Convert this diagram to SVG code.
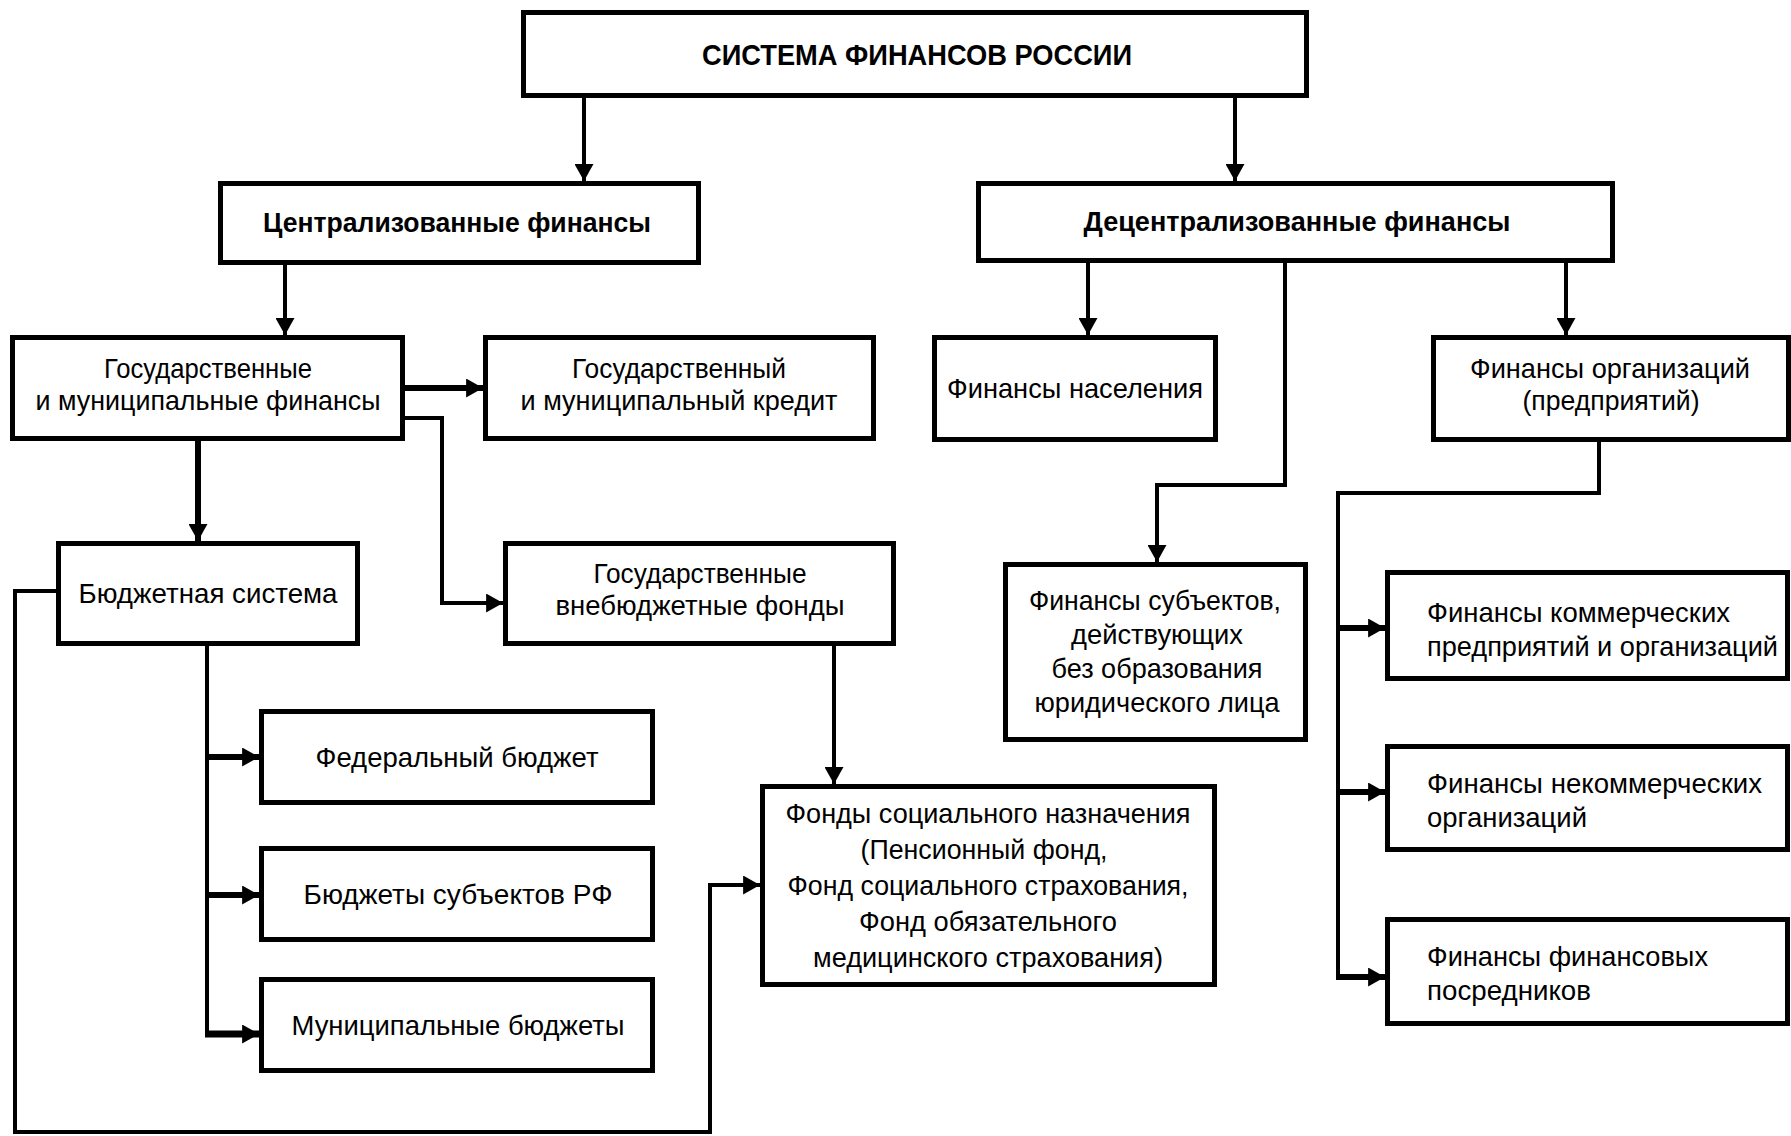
<svg xmlns="http://www.w3.org/2000/svg" width="1791" height="1136" viewBox="0 0 1791 1136">
<style>
.box{fill:#fff;stroke:#000;stroke-width:5}
.t{font-family:"Liberation Sans",Arial,sans-serif;font-size:28px;fill:#000;text-anchor:middle}
.l{text-anchor:start}
.b{font-weight:bold;font-size:27px}
.c{fill:none;stroke:#000;stroke-width:4;stroke-linejoin:miter;stroke-linecap:butt}
.c6{stroke-width:6}
.c7{stroke-width:7}
</style>
<defs>
<marker id="ah" markerUnits="userSpaceOnUse" markerWidth="17" markerHeight="19" refX="16" refY="9" orient="auto" viewBox="0 0 16 18">
<path d="M0,0 L16,9 L0,18 z" fill="#000"/>
</marker>
</defs>
<rect width="1791" height="1136" fill="#fff"/>

<g id="connectors">
<path class="c" d="M584,98 V181" marker-end="url(#ah)"/>
<path class="c" d="M1235,98 V181" marker-end="url(#ah)"/>
<path class="c" d="M285,265 V335" marker-end="url(#ah)"/>
<path class="c c6" d="M405,388 H483" marker-end="url(#ah)"/>
<path class="c" d="M405,418 H442 V603 H503" marker-end="url(#ah)"/>
<path class="c c6" d="M198,441 V541" marker-end="url(#ah)"/>
<path class="c" d="M207,646 V1034"/>
<path class="c c6" d="M205,757 H259" marker-end="url(#ah)"/>
<path class="c c6" d="M205,895 H259" marker-end="url(#ah)"/>
<path class="c c7" d="M205,1034 H259" marker-end="url(#ah)"/>
<path class="c" d="M56,591 H15 V1132 H710 V885 H760" marker-end="url(#ah)"/>
<path class="c" d="M834,646 V784" marker-end="url(#ah)"/>
<path class="c" d="M1088,263 V335" marker-end="url(#ah)"/>
<path class="c" d="M1285,263 V485 H1157 V562" marker-end="url(#ah)"/>
<path class="c" d="M1566,263 V335" marker-end="url(#ah)"/>
<path class="c" d="M1599,442 V493 H1338 V977"/>
<path class="c c6" d="M1336,628 H1385" marker-end="url(#ah)"/>
<path class="c c6" d="M1336,792 H1385" marker-end="url(#ah)"/>
<path class="c c6" d="M1336,977 H1385" marker-end="url(#ah)"/>
</g>

<g id="n_system">
<rect class="box" x="523.5" y="12.5" width="783" height="83"/>
<text class="t b" x="917" y="65" style="font-size:30px" textLength="430" lengthAdjust="spacingAndGlyphs">СИСТЕМА ФИНАНСОВ РОССИИ</text>
</g>

<g id="n_central">
<rect class="box" x="220.5" y="183.5" width="478" height="79"/>
<text class="t b" x="457" y="232" textLength="388" lengthAdjust="spacingAndGlyphs">Централизованные финансы</text>
</g>

<g id="n_decentral">
<rect class="box" x="978.5" y="183.5" width="634" height="77"/>
<text class="t b" x="1297" y="231" textLength="427" lengthAdjust="spacingAndGlyphs">Децентрализованные финансы</text>
</g>

<g id="n_gosmun">
<rect class="box" x="12.5" y="337.5" width="390" height="101"/>
<text class="t" x="208" y="378" textLength="208" lengthAdjust="spacingAndGlyphs">Государственные</text>
<text class="t" x="208" y="410" textLength="345" lengthAdjust="spacingAndGlyphs">и муниципальные финансы</text>
</g>

<g id="n_credit">
<rect class="box" x="485.5" y="337.5" width="388" height="101"/>
<text class="t" x="679" y="378" textLength="214" lengthAdjust="spacingAndGlyphs">Государственный</text>
<text class="t" x="679" y="410" textLength="317" lengthAdjust="spacingAndGlyphs">и муниципальный кредит</text>
</g>

<g id="n_population">
<rect class="box" x="934.5" y="337.5" width="281" height="102"/>
<text class="t" x="1075" y="398" textLength="256" lengthAdjust="spacingAndGlyphs">Финансы населения</text>
</g>

<g id="n_org">
<rect class="box" x="1433.5" y="337.5" width="355" height="102"/>
<text class="t" x="1610" y="378" textLength="280" lengthAdjust="spacingAndGlyphs">Финансы организаций</text>
<text class="t" x="1611" y="410" textLength="177" lengthAdjust="spacingAndGlyphs">(предприятий)</text>
</g>

<g id="n_budget">
<rect class="box" x="58.5" y="543.5" width="299" height="100"/>
<text class="t" x="208" y="603" textLength="259" lengthAdjust="spacingAndGlyphs">Бюджетная система</text>
</g>

<g id="n_offbudget">
<rect class="box" x="505.5" y="543.5" width="388" height="100"/>
<text class="t" x="700" y="583" textLength="213" lengthAdjust="spacingAndGlyphs">Государственные</text>
<text class="t" x="700" y="615" textLength="289" lengthAdjust="spacingAndGlyphs">внебюджетные фонды</text>
</g>

<g id="n_noentity">
<rect class="box" x="1005.5" y="564.5" width="300" height="175"/>
<text class="t" x="1155" y="610" textLength="252" lengthAdjust="spacingAndGlyphs">Финансы субъектов,</text>
<text class="t" x="1157" y="644" textLength="172" lengthAdjust="spacingAndGlyphs">действующих</text>
<text class="t" x="1157" y="678" textLength="211" lengthAdjust="spacingAndGlyphs">без образования</text>
<text class="t" x="1157" y="712" textLength="245" lengthAdjust="spacingAndGlyphs">юридического лица</text>
</g>

<g id="n_federal">
<rect class="box" x="261.5" y="711.5" width="391" height="91"/>
<text class="t" x="457" y="767" textLength="283" lengthAdjust="spacingAndGlyphs">Федеральный бюджет</text>
</g>

<g id="n_subjrf">
<rect class="box" x="261.5" y="848.5" width="391" height="91"/>
<text class="t" x="458" y="904" textLength="309" lengthAdjust="spacingAndGlyphs">Бюджеты субъектов РФ</text>
</g>

<g id="n_municipal">
<rect class="box" x="261.5" y="979.5" width="391" height="91"/>
<text class="t" x="458" y="1035" textLength="333" lengthAdjust="spacingAndGlyphs">Муниципальные бюджеты</text>
</g>

<g id="n_social">
<rect class="box" x="762.5" y="786.5" width="452" height="198"/>
<text class="t" x="988" y="823" textLength="405" lengthAdjust="spacingAndGlyphs">Фонды социального назначения</text>
<text class="t" x="984" y="859" textLength="247" lengthAdjust="spacingAndGlyphs">(Пенсионный фонд,</text>
<text class="t" x="988" y="895" textLength="401" lengthAdjust="spacingAndGlyphs">Фонд социального страхования,</text>
<text class="t" x="988" y="931" textLength="258" lengthAdjust="spacingAndGlyphs">Фонд обязательного</text>
<text class="t" x="988" y="967" textLength="350" lengthAdjust="spacingAndGlyphs">медицинского страхования)</text>
</g>

<g id="n_commercial">
<rect class="box" x="1387.5" y="572.5" width="400" height="106"/>
<text class="t l" x="1427" y="622" textLength="303" lengthAdjust="spacingAndGlyphs">Финансы коммерческих</text>
<text class="t l" x="1427" y="656" textLength="351" lengthAdjust="spacingAndGlyphs">предприятий и организаций</text>
</g>

<g id="n_noncommercial">
<rect class="box" x="1387.5" y="746.5" width="400" height="103"/>
<text class="t l" x="1427" y="793" textLength="335" lengthAdjust="spacingAndGlyphs">Финансы некоммерческих</text>
<text class="t l" x="1427" y="827" textLength="160" lengthAdjust="spacingAndGlyphs">организаций</text>
</g>

<g id="n_intermediaries">
<rect class="box" x="1387.5" y="919.5" width="400" height="104"/>
<text class="t l" x="1427" y="966" textLength="281" lengthAdjust="spacingAndGlyphs">Финансы финансовых</text>
<text class="t l" x="1427" y="1000" textLength="164" lengthAdjust="spacingAndGlyphs">посредников</text>
</g>
</svg>
